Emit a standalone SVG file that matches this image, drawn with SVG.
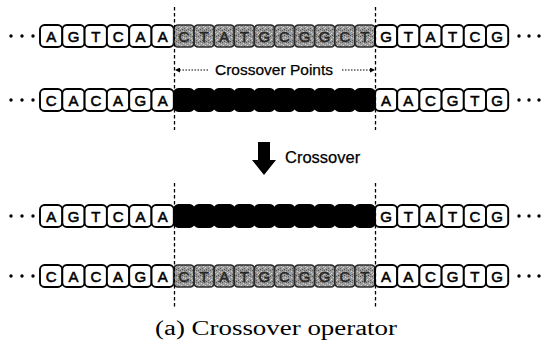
<svg xmlns="http://www.w3.org/2000/svg" width="544" height="343" viewBox="0 0 544 343">
<style>
.w{fill:#fff;stroke:#000;stroke-width:1.9}
.s{fill:url(#speck);stroke:#2a2a2a;stroke-width:1.7}
.b{fill:#000;stroke:#000;stroke-width:1.9}
.lt{font-family:"Liberation Sans",Arial,sans-serif;font-size:15px;text-anchor:middle;fill:#000;stroke:#000;stroke-width:0.55}
.ls{font-family:"Liberation Sans",Arial,sans-serif;font-size:15px;text-anchor:middle;fill:#262626;stroke:#262626;stroke-width:0.5}
.dot{fill:#000}
.vd{stroke:#000;stroke-width:1.3;stroke-dasharray:3.5 2.5;fill:none}
.pd{stroke:#000;stroke-width:1;stroke-dasharray:1.5 1.5;fill:none}
.lbl{font-family:"Liberation Sans",Arial,sans-serif;fill:#000;stroke:#000;stroke-width:0.25}
</style>
<defs>
<pattern id="speck" width="6" height="6" patternUnits="userSpaceOnUse">
<rect width="6" height="6" fill="#9a9a9a"/>
<rect x="0" y="0" width="1" height="1" fill="#5a5a5a"/>
<rect x="3" y="1" width="1" height="1" fill="#d6d6d6"/>
<rect x="1" y="3" width="1" height="1" fill="#dcdcdc"/>
<rect x="4" y="4" width="1" height="1" fill="#606060"/>
<rect x="2" y="5" width="1" height="1" fill="#4e4e4e"/>
<rect x="5" y="2" width="1" height="1" fill="#d0d0d0"/>
<rect x="4" y="0" width="1" height="1" fill="#6e6e6e"/>
<rect x="0" y="4" width="1" height="1" fill="#c8c8c8"/>
</pattern>
<marker id="ah" viewBox="0 0 6 6" refX="6" refY="3" markerWidth="5" markerHeight="5" orient="auto-start-reverse" markerUnits="userSpaceOnUse">
<path d="M0,0 L6,3 L0,6 Z" fill="#000"/>
</marker>
</defs>

<rect width="544" height="343" fill="#fff"/>

<!-- Row 1 -->
<g id="row1">
<g id="row1-dots-left"><circle class="dot" cx="11" cy="36" r="1.7"/><circle class="dot" cx="22" cy="36" r="1.7"/><circle class="dot" cx="33" cy="36" r="1.7"/></g>
<g id="row1-left">
<rect class="w" x="40" y="25" width="22.3" height="22" rx="4.5"/><text class="lt" x="51.2" y="41.5">A</text>
<rect class="w" x="62.3" y="25" width="22.3" height="22" rx="4.5"/><text class="lt" x="73.5" y="41.5">G</text>
<rect class="w" x="84.6" y="25" width="22.3" height="22" rx="4.5"/><text class="lt" x="95.8" y="41.5">T</text>
<rect class="w" x="106.9" y="25" width="22.3" height="22" rx="4.5"/><text class="lt" x="118.1" y="41.5">C</text>
<rect class="w" x="129.2" y="25" width="22.3" height="22" rx="4.5"/><text class="lt" x="140.4" y="41.5">A</text>
<rect class="w" x="151.5" y="25" width="22.3" height="22" rx="4.5"/><text class="lt" x="162.7" y="41.5">A</text>
</g>
<g id="row1-mid">
<rect class="s" x="174" y="25" width="20.1" height="22" rx="4"/><text class="ls" x="184" y="41.5">C</text>
<rect class="s" x="194.1" y="25" width="20.1" height="22" rx="4"/><text class="ls" x="204.1" y="41.5">T</text>
<rect class="s" x="214.2" y="25" width="20.1" height="22" rx="4"/><text class="ls" x="224.2" y="41.5">A</text>
<rect class="s" x="234.3" y="25" width="20.1" height="22" rx="4"/><text class="ls" x="244.3" y="41.5">T</text>
<rect class="s" x="254.4" y="25" width="20.1" height="22" rx="4"/><text class="ls" x="264.4" y="41.5">G</text>
<rect class="s" x="274.5" y="25" width="20.1" height="22" rx="4"/><text class="ls" x="284.5" y="41.5">C</text>
<rect class="s" x="294.6" y="25" width="20.1" height="22" rx="4"/><text class="ls" x="304.6" y="41.5">G</text>
<rect class="s" x="314.7" y="25" width="20.1" height="22" rx="4"/><text class="ls" x="324.7" y="41.5">G</text>
<rect class="s" x="334.8" y="25" width="20.1" height="22" rx="4"/><text class="ls" x="344.8" y="41.5">C</text>
<rect class="s" x="354.9" y="25" width="20.1" height="22" rx="4"/><text class="ls" x="364.9" y="41.5">T</text>
</g>
<g id="row1-right">
<rect class="w" x="375" y="25" width="22.2" height="22" rx="4.5"/><text class="lt" x="386.1" y="41.5">G</text>
<rect class="w" x="397.2" y="25" width="22.2" height="22" rx="4.5"/><text class="lt" x="408.3" y="41.5">T</text>
<rect class="w" x="419.4" y="25" width="22.2" height="22" rx="4.5"/><text class="lt" x="430.5" y="41.5">A</text>
<rect class="w" x="441.6" y="25" width="22.2" height="22" rx="4.5"/><text class="lt" x="452.7" y="41.5">T</text>
<rect class="w" x="463.8" y="25" width="22.2" height="22" rx="4.5"/><text class="lt" x="474.9" y="41.5">C</text>
<rect class="w" x="486" y="25" width="22.2" height="22" rx="4.5"/><text class="lt" x="497.1" y="41.5">G</text>
</g>
<g id="row1-dots-right"><circle class="dot" cx="519" cy="36" r="1.7"/><circle class="dot" cx="529" cy="36" r="1.7"/><circle class="dot" cx="539" cy="36" r="1.7"/></g>
</g>

<!-- Row 2 -->
<g id="row2">
<g id="row2-dots-left"><circle class="dot" cx="11" cy="100" r="1.7"/><circle class="dot" cx="22" cy="100" r="1.7"/><circle class="dot" cx="33" cy="100" r="1.7"/></g>
<g id="row2-left">
<rect class="w" x="40" y="89" width="22.3" height="22" rx="4.5"/><text class="lt" x="51.2" y="105.5">C</text>
<rect class="w" x="62.3" y="89" width="22.3" height="22" rx="4.5"/><text class="lt" x="73.5" y="105.5">A</text>
<rect class="w" x="84.6" y="89" width="22.3" height="22" rx="4.5"/><text class="lt" x="95.8" y="105.5">C</text>
<rect class="w" x="106.9" y="89" width="22.3" height="22" rx="4.5"/><text class="lt" x="118.1" y="105.5">A</text>
<rect class="w" x="129.2" y="89" width="22.3" height="22" rx="4.5"/><text class="lt" x="140.4" y="105.5">G</text>
<rect class="w" x="151.5" y="89" width="22.3" height="22" rx="4.5"/><text class="lt" x="162.7" y="105.5">A</text>
</g>
<g id="row2-mid">
<rect class="b" x="174" y="89" width="20.1" height="22" rx="4.5"/>
<rect class="b" x="194.1" y="89" width="20.1" height="22" rx="4.5"/>
<rect class="b" x="214.2" y="89" width="20.1" height="22" rx="4.5"/>
<rect class="b" x="234.3" y="89" width="20.1" height="22" rx="4.5"/>
<rect class="b" x="254.4" y="89" width="20.1" height="22" rx="4.5"/>
<rect class="b" x="274.5" y="89" width="20.1" height="22" rx="4.5"/>
<rect class="b" x="294.6" y="89" width="20.1" height="22" rx="4.5"/>
<rect class="b" x="314.7" y="89" width="20.1" height="22" rx="4.5"/>
<rect class="b" x="334.8" y="89" width="20.1" height="22" rx="4.5"/>
<rect class="b" x="354.9" y="89" width="20.1" height="22" rx="4.5"/>
</g>
<g id="row2-right">
<rect class="w" x="375" y="89" width="22.2" height="22" rx="4.5"/><text class="lt" x="386.1" y="105.5">A</text>
<rect class="w" x="397.2" y="89" width="22.2" height="22" rx="4.5"/><text class="lt" x="408.3" y="105.5">A</text>
<rect class="w" x="419.4" y="89" width="22.2" height="22" rx="4.5"/><text class="lt" x="430.5" y="105.5">C</text>
<rect class="w" x="441.6" y="89" width="22.2" height="22" rx="4.5"/><text class="lt" x="452.7" y="105.5">G</text>
<rect class="w" x="463.8" y="89" width="22.2" height="22" rx="4.5"/><text class="lt" x="474.9" y="105.5">T</text>
<rect class="w" x="486" y="89" width="22.2" height="22" rx="4.5"/><text class="lt" x="497.1" y="105.5">G</text>
</g>
<g id="row2-dots-right"><circle class="dot" cx="519" cy="100" r="1.7"/><circle class="dot" cx="529" cy="100" r="1.7"/><circle class="dot" cx="539" cy="100" r="1.7"/></g>
</g>

<!-- Row 3 -->
<g id="row3">
<g id="row3-dots-left"><circle class="dot" cx="11" cy="216" r="1.7"/><circle class="dot" cx="22" cy="216" r="1.7"/><circle class="dot" cx="33" cy="216" r="1.7"/></g>
<g id="row3-left">
<rect class="w" x="40" y="205" width="22.3" height="22" rx="4.5"/><text class="lt" x="51.2" y="221.5">A</text>
<rect class="w" x="62.3" y="205" width="22.3" height="22" rx="4.5"/><text class="lt" x="73.5" y="221.5">G</text>
<rect class="w" x="84.6" y="205" width="22.3" height="22" rx="4.5"/><text class="lt" x="95.8" y="221.5">T</text>
<rect class="w" x="106.9" y="205" width="22.3" height="22" rx="4.5"/><text class="lt" x="118.1" y="221.5">C</text>
<rect class="w" x="129.2" y="205" width="22.3" height="22" rx="4.5"/><text class="lt" x="140.4" y="221.5">A</text>
<rect class="w" x="151.5" y="205" width="22.3" height="22" rx="4.5"/><text class="lt" x="162.7" y="221.5">A</text>
</g>
<g id="row3-mid">
<rect class="b" x="174" y="205" width="20.1" height="22" rx="4.5"/>
<rect class="b" x="194.1" y="205" width="20.1" height="22" rx="4.5"/>
<rect class="b" x="214.2" y="205" width="20.1" height="22" rx="4.5"/>
<rect class="b" x="234.3" y="205" width="20.1" height="22" rx="4.5"/>
<rect class="b" x="254.4" y="205" width="20.1" height="22" rx="4.5"/>
<rect class="b" x="274.5" y="205" width="20.1" height="22" rx="4.5"/>
<rect class="b" x="294.6" y="205" width="20.1" height="22" rx="4.5"/>
<rect class="b" x="314.7" y="205" width="20.1" height="22" rx="4.5"/>
<rect class="b" x="334.8" y="205" width="20.1" height="22" rx="4.5"/>
<rect class="b" x="354.9" y="205" width="20.1" height="22" rx="4.5"/>
</g>
<g id="row3-right">
<rect class="w" x="375" y="205" width="22.2" height="22" rx="4.5"/><text class="lt" x="386.1" y="221.5">G</text>
<rect class="w" x="397.2" y="205" width="22.2" height="22" rx="4.5"/><text class="lt" x="408.3" y="221.5">T</text>
<rect class="w" x="419.4" y="205" width="22.2" height="22" rx="4.5"/><text class="lt" x="430.5" y="221.5">A</text>
<rect class="w" x="441.6" y="205" width="22.2" height="22" rx="4.5"/><text class="lt" x="452.7" y="221.5">T</text>
<rect class="w" x="463.8" y="205" width="22.2" height="22" rx="4.5"/><text class="lt" x="474.9" y="221.5">C</text>
<rect class="w" x="486" y="205" width="22.2" height="22" rx="4.5"/><text class="lt" x="497.1" y="221.5">G</text>
</g>
<g id="row3-dots-right"><circle class="dot" cx="519" cy="216" r="1.7"/><circle class="dot" cx="529" cy="216" r="1.7"/><circle class="dot" cx="539" cy="216" r="1.7"/></g>
</g>

<!-- Row 4 -->
<g id="row4">
<g id="row4-dots-left"><circle class="dot" cx="11" cy="276" r="1.7"/><circle class="dot" cx="22" cy="276" r="1.7"/><circle class="dot" cx="33" cy="276" r="1.7"/></g>
<g id="row4-left">
<rect class="w" x="40" y="265" width="22.3" height="22" rx="4.5"/><text class="lt" x="51.2" y="281.5">C</text>
<rect class="w" x="62.3" y="265" width="22.3" height="22" rx="4.5"/><text class="lt" x="73.5" y="281.5">A</text>
<rect class="w" x="84.6" y="265" width="22.3" height="22" rx="4.5"/><text class="lt" x="95.8" y="281.5">C</text>
<rect class="w" x="106.9" y="265" width="22.3" height="22" rx="4.5"/><text class="lt" x="118.1" y="281.5">A</text>
<rect class="w" x="129.2" y="265" width="22.3" height="22" rx="4.5"/><text class="lt" x="140.4" y="281.5">G</text>
<rect class="w" x="151.5" y="265" width="22.3" height="22" rx="4.5"/><text class="lt" x="162.7" y="281.5">A</text>
</g>
<g id="row4-mid">
<rect class="s" x="174" y="265" width="20.1" height="22" rx="4"/><text class="ls" x="184" y="281.5">C</text>
<rect class="s" x="194.1" y="265" width="20.1" height="22" rx="4"/><text class="ls" x="204.1" y="281.5">T</text>
<rect class="s" x="214.2" y="265" width="20.1" height="22" rx="4"/><text class="ls" x="224.2" y="281.5">A</text>
<rect class="s" x="234.3" y="265" width="20.1" height="22" rx="4"/><text class="ls" x="244.3" y="281.5">T</text>
<rect class="s" x="254.4" y="265" width="20.1" height="22" rx="4"/><text class="ls" x="264.4" y="281.5">G</text>
<rect class="s" x="274.5" y="265" width="20.1" height="22" rx="4"/><text class="ls" x="284.5" y="281.5">C</text>
<rect class="s" x="294.6" y="265" width="20.1" height="22" rx="4"/><text class="ls" x="304.6" y="281.5">G</text>
<rect class="s" x="314.7" y="265" width="20.1" height="22" rx="4"/><text class="ls" x="324.7" y="281.5">G</text>
<rect class="s" x="334.8" y="265" width="20.1" height="22" rx="4"/><text class="ls" x="344.8" y="281.5">C</text>
<rect class="s" x="354.9" y="265" width="20.1" height="22" rx="4"/><text class="ls" x="364.9" y="281.5">T</text>
</g>
<g id="row4-right">
<rect class="w" x="375" y="265" width="22.2" height="22" rx="4.5"/><text class="lt" x="386.1" y="281.5">A</text>
<rect class="w" x="397.2" y="265" width="22.2" height="22" rx="4.5"/><text class="lt" x="408.3" y="281.5">A</text>
<rect class="w" x="419.4" y="265" width="22.2" height="22" rx="4.5"/><text class="lt" x="430.5" y="281.5">C</text>
<rect class="w" x="441.6" y="265" width="22.2" height="22" rx="4.5"/><text class="lt" x="452.7" y="281.5">G</text>
<rect class="w" x="463.8" y="265" width="22.2" height="22" rx="4.5"/><text class="lt" x="474.9" y="281.5">T</text>
<rect class="w" x="486" y="265" width="22.2" height="22" rx="4.5"/><text class="lt" x="497.1" y="281.5">G</text>
</g>
<g id="row4-dots-right"><circle class="dot" cx="519" cy="276" r="1.7"/><circle class="dot" cx="529" cy="276" r="1.7"/><circle class="dot" cx="539" cy="276" r="1.7"/></g>
</g>

<!-- Connectors -->
<g id="connectors">
<line class="vd" x1="174.5" y1="7" x2="174.5" y2="130"/>
<line class="vd" x1="174.5" y1="183" x2="174.5" y2="307"/>
<line class="vd" x1="375.5" y1="7" x2="375.5" y2="130"/>
<line class="vd" x1="375.5" y1="183" x2="375.5" y2="307"/>
<line class="pd" x1="208" y1="70" x2="175" y2="70" marker-end="url(#ah)"/>
<line class="pd" x1="342" y1="70" x2="375" y2="70" marker-end="url(#ah)"/>
<path id="crossover-arrow" d="M258,142 H270 V160 H276 L264,175 L252,160 H258 Z" fill="#000"/>
</g>

<g id="label-points"><text class="lbl" x="274" y="75" font-size="15.5" text-anchor="middle">Crossover Points</text></g>
<g id="label-crossover"><text class="lbl" x="285" y="163" font-size="16.5">Crossover</text></g>
<g id="caption"><text x="276" y="335" font-family="'Liberation Serif','Times New Roman',serif" font-size="20" text-anchor="middle" textLength="242" lengthAdjust="spacingAndGlyphs" fill="#000">(a) Crossover operator</text></g>
</svg>
